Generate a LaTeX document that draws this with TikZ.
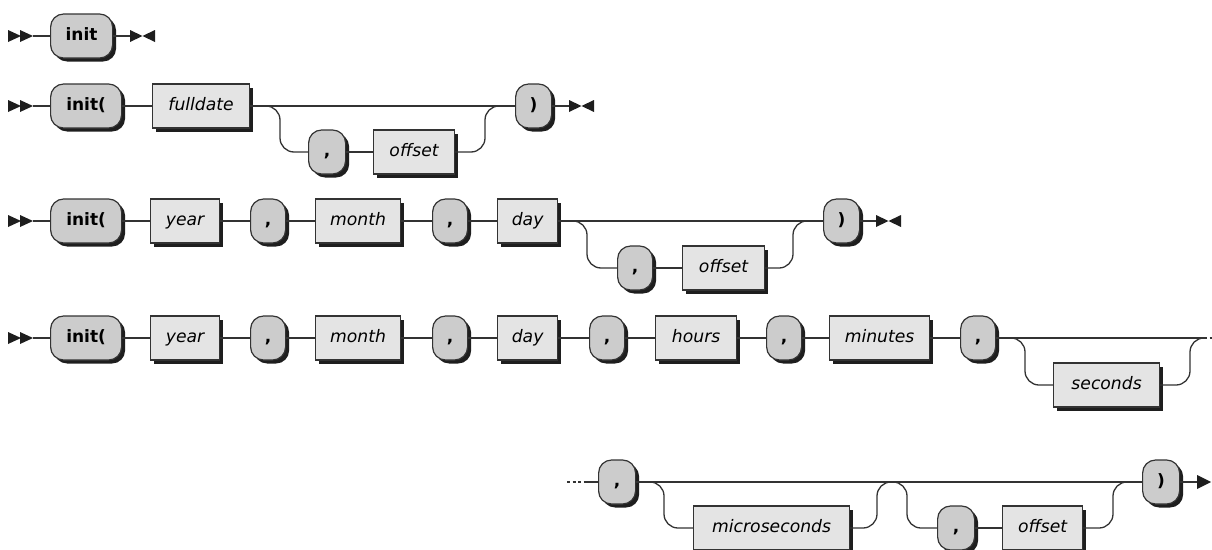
\documentclass[tikz,border=0pt]{standalone}
\usepackage{fontspec}
\setmainfont{DejaVu Sans}
\usetikzlibrary{shadows}
\definecolor{tfill}{HTML}{CCCCCC}
\definecolor{nfill}{HTML}{E4E4E4}
\definecolor{ln}{HTML}{333333}
\definecolor{shd}{HTML}{1E1E1E}
\tikzset{
  rr/.style={line width=1.3pt, draw=ln},
  br/.style={rr, rounded corners=14pt},
  dotline/.style={rr, dash pattern=on 3pt off 2.5pt},
  basebox/.style={draw=ln, line width=1.2pt, anchor=west, minimum height=44pt,
    inner sep=0pt, text height=12.5pt, text depth=3.6pt,
    general shadow={fill=shd, shadow xshift=3.5pt, shadow yshift=-3.5pt}},
  term/.style={basebox, fill=tfill, rounded corners=13pt,
    font=\fontsize{17}{20}\selectfont\bfseries},
  nterm/.style={basebox, fill=nfill,
    font=\fontsize{17.2}{20}\selectfont\itshape},
  startmark/.pic={\fill[shd] (-25,-6) -- (-12,0) -- (-25,6) -- cycle
                             (-13,-6) -- (0,0) -- (-13,6) -- cycle;},
  endmark/.pic={\fill[shd] (0,-6) -- (12.5,0) -- (0,6) -- cycle
                           (25,-6) -- (12.5,0) -- (25,6) -- cycle;},
  arrowmark/.pic={\fill[shd] (0,-7) -- (14,0) -- (0,7) -- cycle;},
}
\begin{document}
\begin{tikzpicture}[x=1pt,y=-1pt]
\useasboundingbox (0,0) rectangle (1212,549);
\clip (0,0) rectangle (1212,549);

% ---------- Row 1 ----------
\coordinate (r1s) at (33,36);
\coordinate (r1e) at (130,36);
\node[term, minimum width=62pt] (r1init) at (50,36) {init};
\pic at (r1s) {startmark};
\pic at (r1e) {endmark};
\draw[rr] (r1s) -- (r1init);
\draw[rr] (r1init) -- (r1e);

% ---------- Row 2 ----------
\coordinate (r2s) at (33,106);
\coordinate (r2e) at (569,106);
\coordinate (r2d) at (280,152);
\coordinate (r2u) at (485,106);
\node[term, minimum width=71pt] (r2init) at (50,106) {init(};
\node[nterm, minimum width=97pt] (r2full) at (152,106) {fulldate};
\node[term, minimum width=37pt] (r2c1) at (308,152) {,};
\node[nterm, minimum width=81pt] (r2off) at (373,152) {offset};
\node[term, minimum width=36pt] (r2close) at (515,106) {)};
\pic at (r2s) {startmark};
\pic at (r2e) {endmark};
\draw[rr] (r2s) -- (r2init);
\draw[rr] (r2init) -- (r2full);
\draw[rr] (r2full) -- (r2close);
\draw[br] (r2full.east) -| (r2d) -- (r2c1);
\draw[rr] (r2c1) -- (r2off);
\draw[br] (r2off.east) -| (r2u) -- (r2close);
\draw[rr] (r2close) -- (r2e);

% ---------- Row 3 ----------
\coordinate (r3s) at (33,221);
\coordinate (r3e) at (876,221);
\coordinate (r3d) at (587,268);
\coordinate (r3u) at (793,221);
\node[term, minimum width=71pt] (r3init) at (50,221) {init(};
\node[nterm, minimum width=69pt] (r3year) at (150,221) {year};
\node[term, minimum width=35pt] (r3c1) at (250,221) {,};
\node[nterm, minimum width=85pt] (r3month) at (315,221) {month};
\node[term, minimum width=35pt] (r3c2) at (432,221) {,};
\node[nterm, minimum width=60pt] (r3day) at (497,221) {day};
\node[term, minimum width=35pt] (r3c3) at (617,268) {,};
\node[nterm, minimum width=82pt] (r3off) at (682,268) {offset};
\node[term, minimum width=36pt] (r3close) at (823,221) {)};
\pic at (r3s) {startmark};
\pic at (r3e) {endmark};
\draw[rr] (r3s) -- (r3init);
\draw[rr] (r3init) -- (r3year);
\draw[rr] (r3year) -- (r3c1);
\draw[rr] (r3c1) -- (r3month);
\draw[rr] (r3month) -- (r3c2);
\draw[rr] (r3c2) -- (r3day);
\draw[rr] (r3day) -- (r3close);
\draw[br] (r3day.east) -| (r3d) -- (r3c3);
\draw[rr] (r3c3) -- (r3off);
\draw[br] (r3off.east) -| (r3u) -- (r3close);
\draw[rr] (r3close) -- (r3e);

% ---------- Row 4 ----------
\coordinate (r4s) at (33,338);
\coordinate (r4d) at (1025,385);
\coordinate (r4u) at (1190,338);
\coordinate (r4dot) at (1204,338);
\coordinate (r4end) at (1212,338);
\node[term, minimum width=71pt] (r4init) at (50,338) {init(};
\node[nterm, minimum width=69pt] (r4year) at (150,338) {year};
\node[term, minimum width=35pt] (r4c1) at (250,338) {,};
\node[nterm, minimum width=85pt] (r4month) at (315,338) {month};
\node[term, minimum width=35pt] (r4c2) at (432,338) {,};
\node[nterm, minimum width=60pt] (r4day) at (497,338) {day};
\node[term, minimum width=35pt] (r4c3) at (589,338) {,};
\node[nterm, minimum width=81pt] (r4hours) at (655,338) {hours};
\node[term, minimum width=35pt] (r4c4) at (766,338) {,};
\node[nterm, minimum width=100pt] (r4min) at (829,338) {minutes};
\node[term, minimum width=35pt] (r4c5) at (960,338) {,};
\node[nterm, minimum width=106pt] (r4sec) at (1053,385) {seconds};
\pic at (r4s) {startmark};
\draw[rr] (r4s) -- (r4init);
\draw[rr] (r4init) -- (r4year);
\draw[rr] (r4year) -- (r4c1);
\draw[rr] (r4c1) -- (r4month);
\draw[rr] (r4month) -- (r4c2);
\draw[rr] (r4c2) -- (r4day);
\draw[rr] (r4day) -- (r4c3);
\draw[rr] (r4c3) -- (r4hours);
\draw[rr] (r4hours) -- (r4c4);
\draw[rr] (r4c4) -- (r4min);
\draw[rr] (r4min) -- (r4c5);
\draw[rr] (r4c5) -- (r4dot);
\draw[br] (r4c5.east) -| (r4d) -- (r4sec);
\draw[br] (r4sec.east) -| (r4u) -- (r4dot);
\draw[dotline] (r4dot) -- (r4end);

% ---------- Row 5 ----------
\coordinate (r5dot) at (567,482);
\coordinate (r5s) at (586,482);
\coordinate (r5d1) at (664,528);
\coordinate (r5u1) at (877,482);
\coordinate (r5j1) at (899,482);
\coordinate (r5s2) at (886,482);
\coordinate (r5d2) at (907,528);
\coordinate (r5u2) at (1113,482);
\coordinate (r5a) at (1197,482);
\node[term, minimum width=37pt] (r5c1) at (598,482) {,};
\node[nterm, minimum width=156pt] (r5micro) at (693,528) {microseconds};
\node[term, minimum width=37pt] (r5c2) at (937,528) {,};
\node[nterm, minimum width=80pt] (r5off) at (1002,528) {offset};
\node[term, minimum width=37pt] (r5close) at (1142,482) {)};
\draw[dotline] (r5dot) -- (r5s);
\draw[rr] (r5s) -- (r5c1);
\draw[rr] (r5c1) -- (r5close);
\draw[br] (r5c1.east) -| (r5d1) -- (r5micro);
\draw[br] (r5micro.east) -| (r5u1) -- (r5j1);
\draw[br] (r5s2) -| (r5d2) -- (r5c2);
\draw[rr] (r5c2) -- (r5off);
\draw[br] (r5off.east) -| (r5u2) -- (r5close);
\draw[rr] (r5close) -- (r5a);
\pic at (r5a) {arrowmark};
\end{tikzpicture}
\end{document}
